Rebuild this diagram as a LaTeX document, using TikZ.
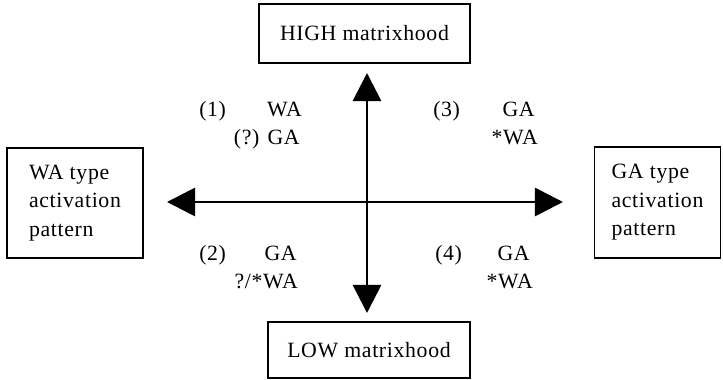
\documentclass[tikz,border=0pt]{standalone}
\usepackage{fontspec}
\setmainfont{Liberation Serif}[LetterSpace=3.0]
\usetikzlibrary{arrows.meta}

\tikzset{
  frame/.style={draw,line width=1.3pt,inner sep=0pt,align=left,
    font=\fontsize{15.5}{20.3}\selectfont},
  axis/.style={line width=2pt,
    {Triangle[length=20pt,width=20pt]}-{Triangle[length=20pt,width=20pt]}},
  lab/.style={inner sep=0pt,font=\fontsize{15.5}{20.3}\selectfont}
}

\begin{document}
\begin{tikzpicture}[x=0.025cm,y=-0.025cm]
\useasboundingbox (0,0) rectangle (723,380);

% the four boxes
\node[frame,minimum width=5.275cm,minimum height=1.475cm]
(high)
at (364.5,33.5)
{HIGH matrixhood};

\node[frame,minimum width=5.05cm,minimum height=1.4cm]
(low)
at (369,350)
{LOW matrixhood};

\node[frame,minimum width=3.4cm,minimum height=2.75cm]
(watype)
at (75,203)
{WA type\\activation\\pattern};

\node[frame,minimum width=3.15cm,minimum height=2.775cm]
(gatype)
at (657.5,202.5)
{GA type\\activation\\pattern};

% axes
\coordinate (uptip) at (367,73);
\coordinate (downtip) at (367,313);
\coordinate (lefttip) at (167,202);
\coordinate (righttip) at (563,202);

\draw[axis]
(downtip)
--
(uptip);

\draw[axis]
(lefttip)
--
(righttip);

% quadrant (1)
\node[lab,anchor=base west] (n1) at (199,117) {(1)};
\node[lab,anchor=base east] (q1a) at (302,117) {WA};
\node[lab,anchor=base east] (q1b) at (300,145) {(?) GA};

% quadrant (3)
\node[lab,anchor=base west] (n3) at (433,117) {(3)};
\node[lab,anchor=base east] (q3a) at (535,117) {GA};
\node[lab,anchor=base east] (q3b) at (538,145) {*WA};

% quadrant (2)
\node[lab,anchor=base west] (n2) at (199,260) {(2)};
\node[lab,anchor=base east] (q2a) at (297,260) {GA};
\node[lab,anchor=base east] (q2b) at (298,288) {?/*WA};

% quadrant (4)
\node[lab,anchor=base west] (n4) at (435,260) {(4)};
\node[lab,anchor=base east] (q4a) at (530,260) {GA};
\node[lab,anchor=base east] (q4b) at (533,288) {*WA};

\end{tikzpicture}
\end{document}
